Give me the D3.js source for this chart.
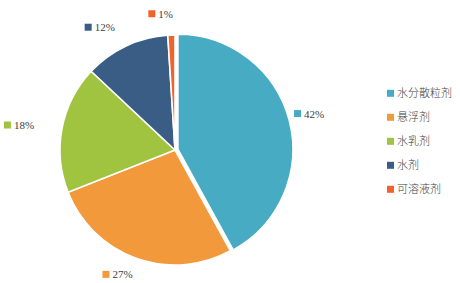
<!DOCTYPE html>
<html>
<head>
<meta charset="utf-8">
<script src="https://cdn.jsdelivr.net/npm/d3@7"></script>
<style>
  body { margin: 0; background: #fff; }
  svg { display: block; }
</style>
</head>
<body>
<div id="chart"></div>
<script>
// chart data
const categories = ["水分散粒剂", "悬浮剂", "水乳剂", "水剂", "可溶液剂"];
const shares = [42, 27, 18, 12, 1];
const colors = ["#47abc4", "#f29a3b", "#a1c440", "#395d84", "#f2622b"];

// where each percent label sits: nudge from slice mid angle (deg), distance from centre
const labelNudge = [-0.8, 5, -1.7, -6.3, -4.2];
const labelDist = [139, 137, 158, 144, 137];

window.onload = function() {
    const width = 460, height = 283;
    const cx = 175, cy = 150, radius = 115;

    const svg = d3.select("#chart")
                  .append("svg")
                  .attr("width", width)
                  .attr("height", height);

    const rows = categories.map((c, i) => ({ name: c, value: shares[i], color: colors[i], i: i }));

    const pie = d3.pie()
                  .value(d => d.value)
                  .sort(null)
                  .startAngle(0)
                  .endAngle(2 * Math.PI);

    const arc = d3.arc()
                  .innerRadius(0)
                  .outerRadius(radius);

    const arcs = pie(rows);

    const g = svg.append("g")
                 .attr("transform", `translate(${cx},${cy})`);

    // first slice is pulled out a little
    g.selectAll("path")
     .data(arcs)
     .enter()
     .append("path")
     .attr("d", arc)
     .attr("fill", d => d.data.color)
     .attr("stroke", "#fff")
     .attr("stroke-width", 1.6)
     .attr("transform", d => {
         if (d.index !== 0) return null;
         const mid = (d.startAngle + d.endAngle) / 2;
         return `translate(${3 * Math.sin(mid)},${-3 * Math.cos(mid)})`;
     });

    // percent labels
    const lab = g.selectAll("g.lab")
                 .data(arcs)
                 .enter()
                 .append("g")
                 .attr("class", "lab")
                 .attr("transform", d => {
                     const mid = (d.startAngle + d.endAngle) / 2 + labelNudge[d.index] * Math.PI / 180;
                     const r = labelDist[d.index];
                     return `translate(${r * Math.sin(mid)},${-r * Math.cos(mid)})`;
                 });

    lab.each(function(d) {
        const el = d3.select(this);
        const txt = d.data.value + "%";
        const t = el.append("text")
                    .text(txt)
                    .attr("font-family", "'Liberation Serif', 'Times New Roman', serif")
                    .attr("font-size", "11px")
                    .attr("fill", "#404040");
        const w = t.node().getComputedTextLength();
        const total = 7 + 3 + w;
        el.append("rect")
          .attr("x", -total / 2)
          .attr("y", -3.5)
          .attr("width", 7)
          .attr("height", 7)
          .attr("fill", d.data.color);
        t.attr("x", -total / 2 + 10)
         .attr("y", 4);
    });

    // legend
    const ly = d3.scalePoint()
                 .domain(categories)
                 .range([93.3, 189.3]);

    const leg = svg.append("g")
                   .selectAll("g")
                   .data(rows)
                   .enter()
                   .append("g")
                   .attr("transform", d => `translate(387,${ly(d.name)})`);

    leg.append("rect")
       .attr("x", 0)
       .attr("y", -3.5)
       .attr("width", 7)
       .attr("height", 7)
       .attr("fill", d => d.color);

    leg.append("text")
       .text(d => d.name)
       .attr("x", 10)
       .attr("y", 4)
       .attr("font-family", "'Noto Sans CJK SC', sans-serif")
       .attr("font-size", "11px")
       .attr("font-weight", 300)
       .attr("fill", "#404040");
};
</script>
</body>
</html>
